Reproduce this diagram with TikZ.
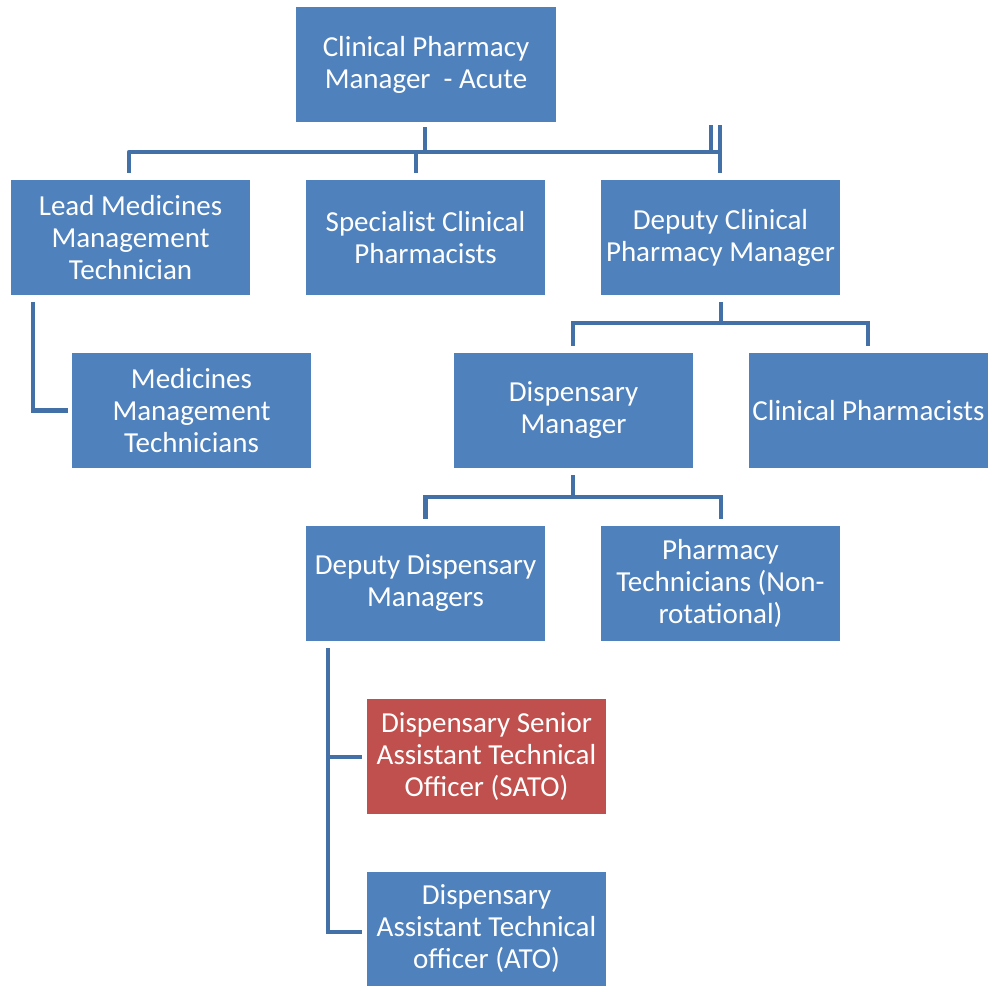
\documentclass[tikz,border=0pt]{standalone}
\usepackage{fontspec}
\setmainfont{Carlito}
\definecolor{boxblue}{HTML}{4F81BD}
\definecolor{boxred}{HTML}{C0504D}
\definecolor{linkblue}{HTML}{4470A8}
\tikzset{
  orgbox/.style={fill=boxblue, draw=none, text=white, minimum width=239pt, minimum height=115pt,
    align=center, inner sep=0pt, font=\fontsize{29}{32}\selectfont},
  redbox/.style={orgbox, fill=boxred},
  link/.style={draw=linkblue, line width=4.5pt}
}
\begin{document}
\begin{tikzpicture}[x=1pt,y=-1pt]
\useasboundingbox (0,0) rectangle (992,986);
\node[orgbox, minimum width=260pt] (top) at (426,64.5) {Clinical Pharmacy\\Manager\ \ - Acute};
\node[orgbox] (lead) at (130.5,237.5) {Lead Medicines\\Management\\Technician};
\node[orgbox] (spec) at (425.5,237.5) {Specialist Clinical\\Pharmacists};
\node[orgbox] (dcpm) at (720.5,237.5) {Deputy Clinical\\Pharmacy Manager};
\node[orgbox] (mmt) at (191.5,410.5) {Medicines\\Management\\Technicians};
\node[orgbox] (dm) at (573.5,410.5) {Dispensary\\Manager};
\node[orgbox] (cp) at (868.5,410.5) {Clinical Pharmacists};
\node[orgbox] (ddm) at (425.5,583.5) {Deputy Dispensary\\Managers};
\node[orgbox] (pt) at (720.5,583.5) {Pharmacy\\Technicians (Non-\\rotational)};
\node[redbox] (sato) at (486.5,756.5) {Dispensary Senior\\Assistant Technical\\Officer (SATO)};
\node[orgbox, minimum height=114pt] (ato) at (486.5,929) {Dispensary\\Assistant Technical\\officer (ATO)};

% top level
\coordinate (tA) at (425,127);
\coordinate (tB) at (425,152);
\coordinate (hL) at (129,152);
\coordinate (hR) at (720,152);
\coordinate (hM) at (416,152);
\coordinate (dL) at (129,173);
\coordinate (dM) at (416,173);
\coordinate (dR) at (720,173);
\coordinate (uR1) at (720,125);
\coordinate (uR2) at (711,125);
\coordinate (uR3) at (711,152);
\draw[link] (tA) -- (tB);
\draw[link, line join=round] (dL) -- (hL) -- (hR);
\draw[link] (hM) -- (dM);
\draw[link] (uR1) -- (dR);
\draw[link, line width=3.5pt] (uR2) -- (uR3);

% lead -> mmt
\coordinate (lA) at (33,302);
\coordinate (lB) at (33,410.5);
\coordinate (lC) at (68,410.5);
\draw[link] (lA) -- (lB) -- (lC);

% dcpm -> dm, cp
\coordinate (cA) at (721,302);
\coordinate (cB) at (721,323);
\coordinate (cL) at (573,346);
\coordinate (cR) at (868,346);
\draw[link] (cA) -- (cB);
\draw[link] (cL) |- (cB) -| (cR);

% dm -> ddm, pt
\coordinate (mA) at (573,475);
\coordinate (mB) at (573,497);
\coordinate (mL) at (425.5,519);
\coordinate (mR) at (721,519);
\draw[link] (mA) -- (mB);
\draw[link] (mL) |- (mB) -| (mR);

% ddm -> sato, ato
\coordinate (sA) at (328,648);
\coordinate (sB) at (328,757);
\coordinate (sC) at (362,757);
\coordinate (sD) at (328,932);
\coordinate (sE) at (362,932);
\draw[link] (sA) -- (sD) -- (sE);
\draw[link] (sB) -- (sC);
\end{tikzpicture}
\end{document}
